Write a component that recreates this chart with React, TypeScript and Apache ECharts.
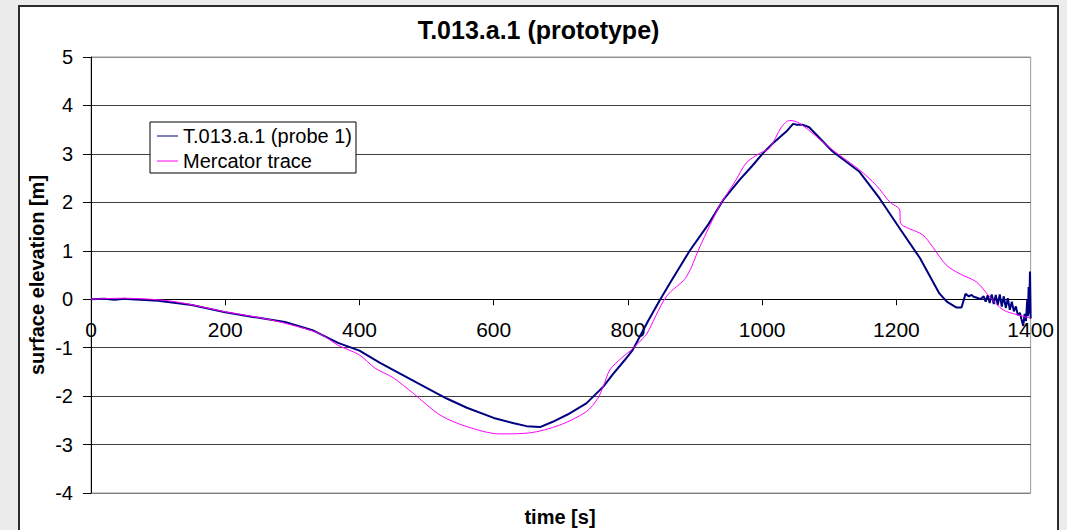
import React, { useEffect, useRef } from "react";
import * as echarts from "echarts";

const FONT = '"Liberation Sans", Arial, sans-serif';

const chartTitle = "T.013.a.1 (prototype)";
const xAxisTitle = "time [s]";
const yAxisTitle = "surface elevation [m]";
const seriesNames = ["T.013.a.1 (probe 1)", "Mercator trace"];

// Probe 1 (navy)
const probeT = [
  0, 20, 35, 50, 60, 100, 150, 200, 239, 289, 330, 368, 400, 430, 450, 500, 530, 560, 600, 630, 649, 669, 688, 710,
  738, 763, 778, 795, 807, 815, 830, 847, 862, 892, 920, 942, 966, 985, 1001, 1016, 1036, 1046, 1052, 1061, 1070,
  1105, 1145, 1175, 1205, 1235, 1264, 1275, 1289, 1297, 1303, 1308, 1312, 1315, 1320, 1325, 1330, 1333, 1336, 1339,
  1342, 1345, 1348, 1351, 1354, 1357, 1360, 1363, 1366, 1369, 1372, 1375, 1378, 1381, 1384, 1387, 1389, 1391, 1393,
  1395, 1396, 1397, 1398, 1399, 1400,
];
const probeV = [
  0, 0.01, -0.01, 0.01, 0.0, -0.03, -0.12, -0.27, -0.36, -0.47, -0.64, -0.9, -1.06, -1.31, -1.46, -1.83, -2.05, -2.24,
  -2.45, -2.56, -2.62, -2.64, -2.53, -2.38, -2.15, -1.81, -1.54, -1.26, -1.05, -0.84, -0.45, -0.03, 0.32, 1.0, 1.55,
  2.05, 2.46, 2.75, 3.01, 3.22, 3.46, 3.62, 3.6, 3.6, 3.55, 3.05, 2.63, 2.08, 1.46, 0.85, 0.12, -0.05, -0.17, -0.17,
  0.11, 0.06, 0.09, 0.05, 0.03, 0.0, 0.06, -0.05, 0.08, -0.08, 0.1, -0.1, 0.09, -0.12, 0.1, -0.15, 0.06, -0.18, 0.02,
  -0.22, -0.05, -0.25, -0.15, -0.33, -0.28, -0.45, -0.55, -0.3, -0.45, 0.0, -0.35, 0.25, -0.3, 0.57, -0.4,
];

// Mercator trace (magenta)
const mercT = [
  0, 46, 120, 200, 269, 339, 368, 400, 423, 450, 480, 520, 560, 609, 653, 698, 738, 755, 763, 773, 790, 808, 822, 828,
  857, 887, 907, 937, 961, 976, 996, 1011, 1029, 1041, 1056, 1105, 1145, 1170, 1190, 1205, 1206, 1239, 1254, 1274,
  1295, 1319, 1339, 1359, 1380, 1399,
];
const mercV = [
  0, 0.02, -0.04, -0.26, -0.43, -0.7, -0.95, -1.15, -1.42, -1.62, -1.94, -2.39, -2.63, -2.78, -2.76, -2.6, -2.32,
  -2.05, -1.81, -1.46, -1.22, -1.01, -0.81, -0.72, 0.05, 0.46, 1.08, 1.94, 2.46, 2.81, 3.01, 3.12, 3.56, 3.69, 3.63,
  3.08, 2.67, 2.35, 2.01, 1.84, 1.58, 1.33, 1.08, 0.71, 0.52, 0.36, 0.05, -0.22, -0.32, -0.39,
];

const xMin = 0;
const xMax = 1400;
const xStep = 200;
const yMin = -4;
const yMax = 5;
const yStep = 1;

const GRID_H = 436;

export default function App() {
  const ref = useRef<HTMLDivElement>(null);

  useEffect(() => {
    if (!ref.current) return;
    const chart = echarts.init(ref.current, undefined, { renderer: "svg" });
    const probeData = probeT.map((t, i) => [t, probeV[i]]);
    const mercData = mercT.map((t, i) => [t, mercV[i]]);
    const splitColors = ["#808080"];
    for (let i = 0; i < 8; i++) splitColors.push("#404040");
    splitColors.push("#909090");
    // place the x axis where y = 0
    const zeroOffset = -((0 - yMin) / (yMax - yMin)) * GRID_H;

    chart.setOption({
      animation: false,
      backgroundColor: "#ffffff",
      title: {
        text: chartTitle,
        left: "center",
        top: 10,
        padding: 0,
        textStyle: { fontFamily: FONT, fontSize: 25, fontWeight: "bold", color: "#000" },
      },
      grid: {
        left: 71,
        top: 50,
        width: 940,
        height: GRID_H,
        show: true,
        borderColor: "#999",
        borderWidth: 1,
        backgroundColor: "transparent",
      },
      legend: {
        orient: "vertical",
        left: 130,
        top: 115,
        padding: [4, 4, 2, 7],
        itemGap: 5,
        itemWidth: 21,
        itemHeight: 1,
        icon: "rect",
        backgroundColor: "#fff",
        borderColor: "#000",
        borderWidth: 1,
        borderRadius: 0,
        textStyle: { fontFamily: FONT, fontSize: 20, color: "#000", lineHeight: 20 },
        data: seriesNames,
      },
      xAxis: {
        type: "value",
        min: xMin,
        max: xMax,
        interval: xStep,
        position: "bottom",
        offset: zeroOffset,
        axisLine: { show: true, onZero: false, lineStyle: { color: "#000", width: 1 } },
        axisTick: { show: true, inside: false, length: 6, lineStyle: { color: "#000" } },
        axisLabel: {
          fontFamily: FONT,
          fontSize: 21,
          color: "#000",
          margin: 20,
          formatter: (v: number) => String(v),
        },
        splitLine: { show: false },
      },
      yAxis: {
        type: "value",
        min: yMin,
        max: yMax,
        interval: yStep,
        axisLine: { show: true, onZero: false, lineStyle: { color: "#000", width: 1 } },
        axisTick: { show: true, inside: false, length: 8, lineStyle: { color: "#000" } },
        axisLabel: { fontFamily: FONT, fontSize: 20, color: "#000", margin: 18 },
        splitLine: { show: true, lineStyle: { color: splitColors, width: 1 } },
      },
      graphic: [
        {
          type: "text",
          x: 17,
          y: 268,
          rotation: Math.PI / 2,
          style: {
            text: yAxisTitle,
            font: `bold 20px ${FONT}`,
            fill: "#000",
            textAlign: "center",
            textVerticalAlign: "middle",
          },
        },
        {
          type: "text",
          x: 540,
          y: 510,
          style: {
            text: xAxisTitle,
            font: `bold 20px ${FONT}`,
            fill: "#000",
            textAlign: "center",
            textVerticalAlign: "middle",
          },
        },
      ],
      series: [
        {
          name: seriesNames[0],
          type: "line",
          data: probeData,
          showSymbol: false,
          symbol: "none",
          color: "#000080",
          lineStyle: { color: "#000080", width: 2 },
          z: 2,
        },
        {
          name: seriesNames[1],
          type: "line",
          data: mercData,
          showSymbol: false,
          symbol: "none",
          smooth: 0.3,
          color: "#ff00ff",
          lineStyle: { color: "#ff00ff", width: 1 },
          z: 3,
        },
      ],
    });
    return () => chart.dispose();
  }, []);

  return (
    <div
      style={{
        position: "fixed",
        left: 0,
        top: 0,
        width: 1067,
        height: 530,
        background: "#ececec",
        overflow: "hidden",
      }}
    >
      <div
        style={{
          position: "absolute",
          left: 18,
          top: 5,
          width: 1037,
          height: 530,
          borderTop: "2px solid #2b2b2b",
          borderLeft: "2px solid #2b2b2b",
          borderRight: "2px solid #2b2b2b",
          background: "#fff",
        }}
      >
        <div ref={ref} style={{ width: 1037, height: 523 }} />
      </div>
    </div>
  );
}
